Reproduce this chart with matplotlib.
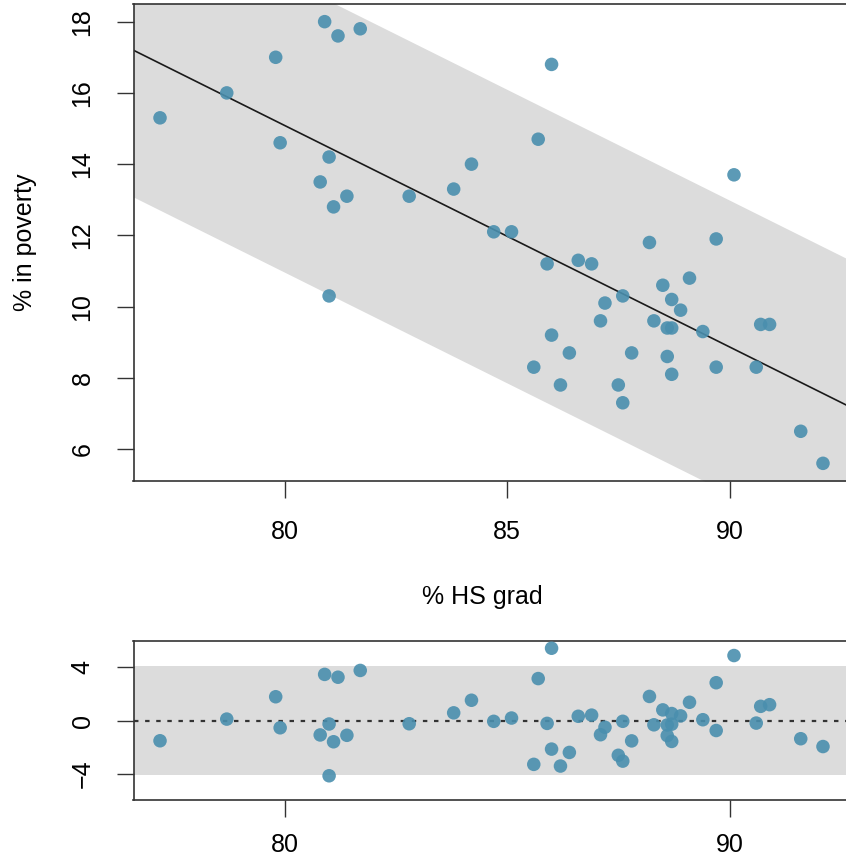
import numpy as np
import matplotlib
matplotlib.use("Agg")
import matplotlib.pyplot as plt

plt.rcParams['font.family'] = ['Liberation Sans', 'DejaVu Sans']

# % HS grad and % in poverty, one entry per state
hs_grad = [80.9, 81.2, 81.7, 79.8, 78.7, 77.2, 79.9, 81.0, 80.8, 81.4,
           81.1, 81.0, 86.0, 85.7, 84.2, 83.8, 82.8, 84.7, 85.1, 90.1,
           88.2, 89.7, 85.9, 86.6, 86.9, 87.2, 87.1, 86.0, 86.4, 85.6,
           86.2, 87.6, 88.5, 89.1, 88.7, 88.9, 88.3, 88.6, 88.7, 89.4,
           90.7, 90.9, 87.8, 88.6, 88.7, 89.7, 90.6, 87.5, 87.6, 91.6,
           92.1]
poverty = [18.0, 17.6, 17.8, 17.0, 16.0, 15.3, 14.6, 14.2, 13.5, 13.1,
           12.8, 10.3, 16.8, 14.7, 14.0, 13.3, 13.1, 12.1, 12.1, 13.7,
           11.8, 11.9, 11.2, 11.3, 11.2, 10.1, 9.6, 9.2, 8.7, 8.3,
           7.8, 10.3, 10.6, 10.8, 10.2, 9.9, 9.6, 9.4, 9.4, 9.3,
           9.5, 9.5, 8.7, 8.6, 8.1, 8.3, 8.3, 7.8, 7.3, 6.5,
           5.6]

x = np.array(hs_grad)
y = np.array(poverty)

slope, intercept = np.polyfit(x, y, 1)
resid = y - (intercept + slope * x)
half = 2 * np.std(resid, ddof=1)

xr = x.max() - x.min()
xlim = (x.min() - 0.04 * xr, x.max() + 0.04 * xr)
yr = y.max() - y.min()
ylim = (y.min() - 0.04 * yr, y.max() + 0.04 * yr)
rlim = 1.1 * np.abs(resid).max()

pt_col = '#4a8fae'
band_col = '#dcdcdc'
fs = 18

W, H = 846, 861
fig = plt.figure(figsize=(W / 100, H / 100), dpi=100)
left = 133.5 / W
width = 716 / W
ax = fig.add_axes([left, 1 - 481 / H, width, 477 / H])
ax2 = fig.add_axes([left, 1 - 800 / H, width, 159 / H])

# top: scatter with fitted line and band
xx = np.array(xlim)
line = intercept + slope * xx
ax.fill_between(xx, line - half, line + half, color=band_col, lw=0, zorder=0)
ax.plot(xx, line, color='#1a1a1a', lw=1.2, zorder=2)
ax.scatter(x, y, s=95, color=pt_col, alpha=0.9, edgecolors='none', zorder=3)
ax.set_xlim(xlim)
ax.set_ylim(ylim)
ax.set_xticks([80, 85, 90])
ax.set_yticks([6, 8, 10, 12, 14, 16, 18])
ax.tick_params(labelsize=fs, length=12, width=1.0, pad=16, color='#333333')
for lab in ax.get_yticklabels():
    lab.set_rotation(90)
    lab.set_va('center')
ax.set_ylabel('% in poverty', fontsize=fs, labelpad=24)
fig.text(482 / W, 1 - 597 / H, '% HS grad', fontsize=fs, ha='center', va='center')

# bottom: residuals
ax2.axhspan(-half, half, color=band_col, lw=0, zorder=0)
ax2.axhline(0, color='#333333', lw=1.6, ls=(0, (2, 3)), zorder=2)
ax2.scatter(x, resid, s=95, color=pt_col, alpha=0.9, edgecolors='none', zorder=3)
ax2.set_xlim(xlim)
ax2.set_ylim(-rlim, rlim)
ax2.set_xticks([80, 90])
ax2.set_yticks([-4, 0, 4])
ax2.tick_params(labelsize=fs, length=12, width=1.0, pad=16, color='#333333')
ax2.tick_params(axis='x', pad=12)
for lab in ax2.get_yticklabels():
    lab.set_rotation(90)
    lab.set_va('center')

for a in (ax, ax2):
    for s in a.spines.values():
        s.set_linewidth(1.2)
        s.set_color('#333333')

fig.savefig('out.png', dpi=100)
